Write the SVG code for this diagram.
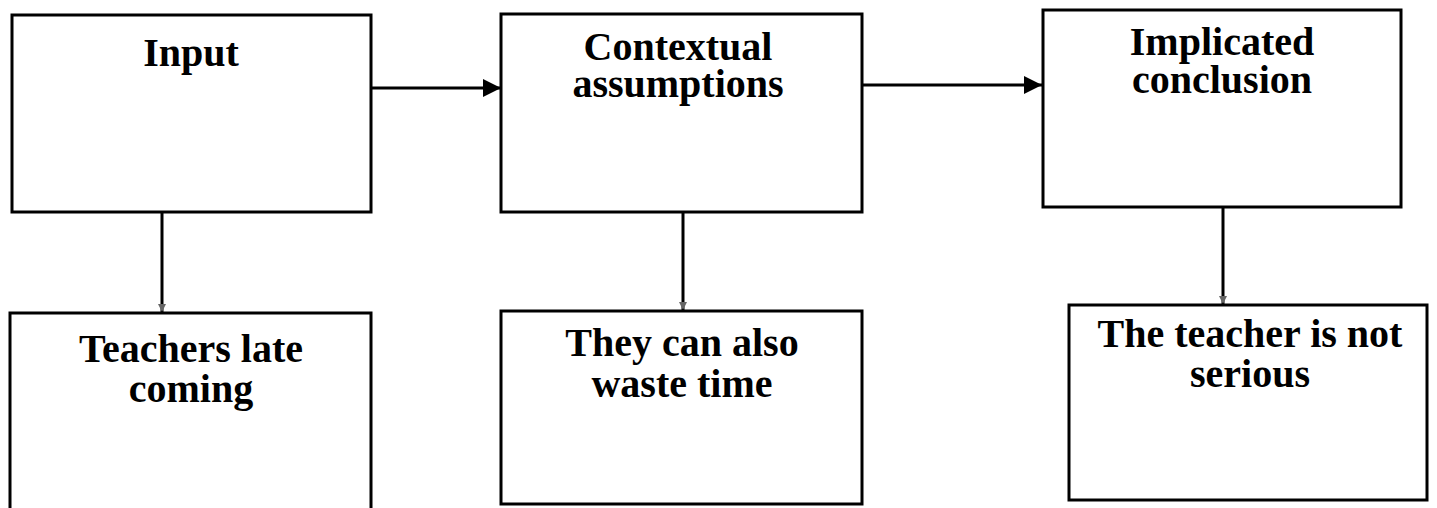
<svg xmlns="http://www.w3.org/2000/svg" width="1437" height="508" viewBox="0 0 1437 508">
<style>
.box{fill:#fff;stroke:#000;stroke-width:3}
.con{stroke:#000;stroke-width:3;fill:none}
.t{font-family:"Liberation Serif","Times New Roman",serif;font-weight:bold;font-size:40px;fill:#000;text-anchor:middle}
</style>
<defs>
<marker id="ah" markerWidth="6" markerHeight="6" refX="6" refY="3" orient="auto" markerUnits="strokeWidth">
<path d="M0,0 L6,3 L0,6 Z" fill="#000"/>
</marker>
<marker id="sm" markerWidth="10" markerHeight="10" refX="8" refY="4" orient="auto" markerUnits="userSpaceOnUse">
<path d="M0,0 L8,4 L0,8 Z" fill="#666"/>
</marker>
</defs>
<rect width="1437" height="508" fill="#fff"/>
<g id="connectors">
<line class="con" x1="372" y1="88" x2="501" y2="88" marker-end="url(#ah)"/>
<line class="con" x1="862" y1="85" x2="1042" y2="85" marker-end="url(#ah)"/>
<line class="con" x1="162" y1="213" x2="162" y2="312" marker-end="url(#sm)"/>
<line class="con" x1="683" y1="212" x2="683" y2="310" marker-end="url(#sm)"/>
<line class="con" x1="1223" y1="207" x2="1223" y2="304" marker-end="url(#sm)"/>
</g>
<g id="input">
<rect class="box" x="12" y="15" width="359" height="197"/>
<text class="t" x="191" y="66">Input</text>
</g>
<g id="contextual">
<rect class="box" x="501" y="14" width="361" height="198"/>
<text class="t" x="678" y="60">Contextual</text>
<text class="t" x="678" y="97">assumptions</text>
</g>
<g id="implicated">
<rect class="box" x="1043" y="10" width="358" height="197"/>
<text class="t" x="1222" y="55">Implicated</text>
<text class="t" x="1222" y="93">conclusion</text>
</g>
<g id="teachers">
<rect class="box" x="10" y="313" width="361" height="215"/>
<text class="t" x="191" y="362">Teachers late</text>
<text class="t" x="191" y="402">coming</text>
</g>
<g id="waste">
<rect class="box" x="501" y="311" width="361" height="193"/>
<text class="t" x="682" y="356">They can also</text>
<text class="t" x="682" y="397">waste time</text>
</g>
<g id="serious">
<rect class="box" x="1069" y="305" width="358" height="195"/>
<text class="t" x="1250" y="347">The teacher is not</text>
<text class="t" x="1250" y="387">serious</text>
</g>
</svg>
